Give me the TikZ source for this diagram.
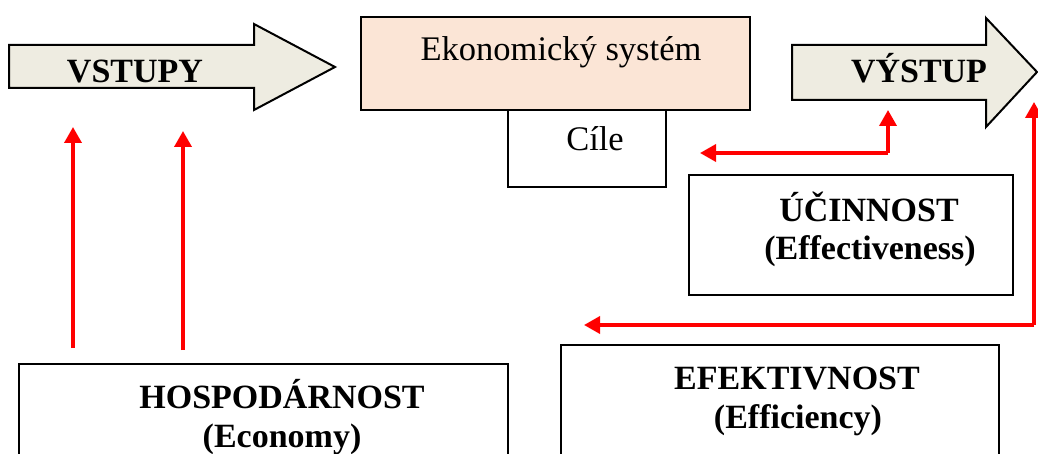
\documentclass[tikz,border=0pt]{standalone}
\usepackage{fontspec}
\setmainfont{Liberation Serif}
\usetikzlibrary{arrows.meta}
\definecolor{arrowfill}{HTML}{EEECE1}
\definecolor{sysfill}{HTML}{FBE5D6}
\tikzset{
  outline/.style={draw=black, line width=2pt},
  bigarrow/.style={outline, fill=arrowfill, line join=miter},
  boxed/.style={outline, fill=white},
  label/.style={font=\fontsize{34}{39}\selectfont\bfseries, align=center, inner sep=0pt, anchor=base},
  plain/.style={font=\fontsize{34.5}{39}\selectfont, inner sep=0pt, anchor=base},
  flow/.style={draw=red, line width=3.6pt, -{Triangle[length=16pt,width=17pt]}},
}
\begin{document}
\begin{tikzpicture}[x=1pt,y=-1pt]
\useasboundingbox (0,0) rectangle (1038,454);

% block arrows: inputs and output
\draw[bigarrow] (9,45) -- (254,45) -- (254,24) -- (335,67) -- (254,110) -- (254,88) -- (9,88) -- cycle;
\draw[bigarrow] (792,45) -- (986,45) -- (986,18) -- (1037,72) -- (986,127) -- (986,100) -- (792,100) -- cycle;
\node[label] (vstupy) at (135,83) {VSTUPY};
\node[label] (vystup) at (919,83) {VÝSTUP};

% economic system and its goals
\draw[outline, fill=sysfill] (361,17) rectangle (750,110);
\draw[boxed] (508,110) rectangle (666,187);
\node[plain] (system) at (561,61) {Ekonomický systém};
\node[plain] (cile) at (595,151) {Cíle};

% evaluation boxes
\draw[boxed] (689,175) rectangle (1013,295);
\node[label] (ucinnost) at (869,222) {ÚČINNOST};
\node[label] (effect) at (870,259) {(Effectiveness)};

\draw[boxed] (561,345) rectangle (999,470);
\node[label] (efekt) at (797,389) {EFEKTIVNOST};
\node[label] (effic) at (798,428) {(Efficiency)};

\draw[boxed] (19,364) rectangle (508,470);
\node[label] (hosp) at (282,408) {HOSPODÁRNOST};
\node[label] (econ) at (282,447) {(Economy)};

% feedback connectors
\coordinate (h1) at (73,348);   \coordinate (h1t) at (73,127);
\coordinate (h2) at (183,350);  \coordinate (h2t) at (183,131);
\draw[flow] (h1) -- (h1t);
\draw[flow] (h2) -- (h2t);

\coordinate (u1) at (888,153);  \coordinate (u1t) at (888,110);
\coordinate (u2t) at (700,153);
\draw[flow] (u1) -- (u1t);
\draw[flow] (u1) -- (u2t);

\coordinate (e0) at (1034,325); \coordinate (e1t) at (1034,102);
\coordinate (e2t) at (584,325);
\draw[flow] (e0) -- (e1t);
\draw[flow] (e0) -- (e2t);
\end{tikzpicture}
\end{document}
